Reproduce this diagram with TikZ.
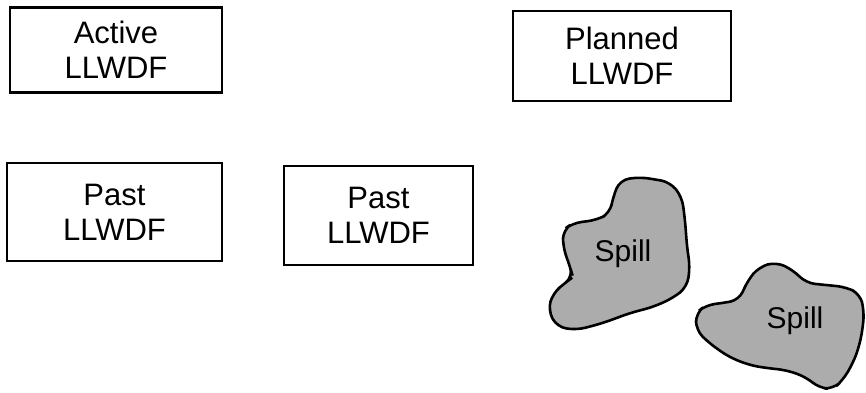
\documentclass[tikz,border=0pt]{standalone}
\usepackage{fontspec}
\setmainfont{Liberation Sans}
\usepackage{xcolor}
\definecolor{spillgray}{RGB}{172, 172, 172}

\begin{document}
\begin{tikzpicture}[
    x=1pt, y=-1pt,
    site/.style={rectangle, draw=black, line width=2.2pt, fill=white, align=center, font=\fontsize{31}{35}\selectfont, inner sep=0pt},
    spill/.style={draw=black, line width=2.6pt, fill=spillgray, rounded corners=9pt},
    spilltext/.style={font=\fontsize{30}{34}\selectfont}
]
\useasboundingbox (0,0) rectangle (866,392);

% LLWDF sites
\node[site, minimum width=212pt, minimum height=85pt] (active) at (116,50) {Active\\LLWDF};
\node[site, minimum width=218pt, minimum height=90pt] (planned) at (622,56) {Planned\\LLWDF};
\node[site, minimum width=215pt, minimum height=98pt] (pastA) at (114.5,212) {Past\\LLWDF};
\node[site, minimum width=189pt, minimum height=99pt] (pastB) at (378.5,215.5) {Past\\LLWDF};

% Spills
\draw[spill] (620,180) -- (640,177) -- (670,182) -- (682,197) -- (685,220) -- (687,247)
    -- (690,267) -- (687,287) -- (673,298) -- (653,307) -- (630,313) -- (603,323)
    -- (577,330) -- (557,327) -- (548,310) -- (553,293) -- (565,283) -- (573,277)
    -- (570,267) -- (563,247) -- (563,230) -- (573,223) -- (597,220) -- (610,213)
    -- (613,197) -- cycle;
\node[spilltext] (spillA) at (623,254) {Spill};

\draw[spill] (696,313) -- (706,305) -- (723,303) -- (739,300) -- (748,280) -- (759,267)
    -- (776,262) -- (793,270) -- (806,283) -- (826,285) -- (846,287) -- (860,294)
    -- (864,310) -- (863,327) -- (859,347) -- (853,363) -- (843,380) -- (833,389)
    -- (819,388) -- (806,377) -- (786,370) -- (766,368) -- (749,365) -- (729,357)
    -- (709,343) -- (696,330) -- cycle;
\node[spilltext] (spillB) at (795,321) {Spill};

\end{tikzpicture}
\end{document}
